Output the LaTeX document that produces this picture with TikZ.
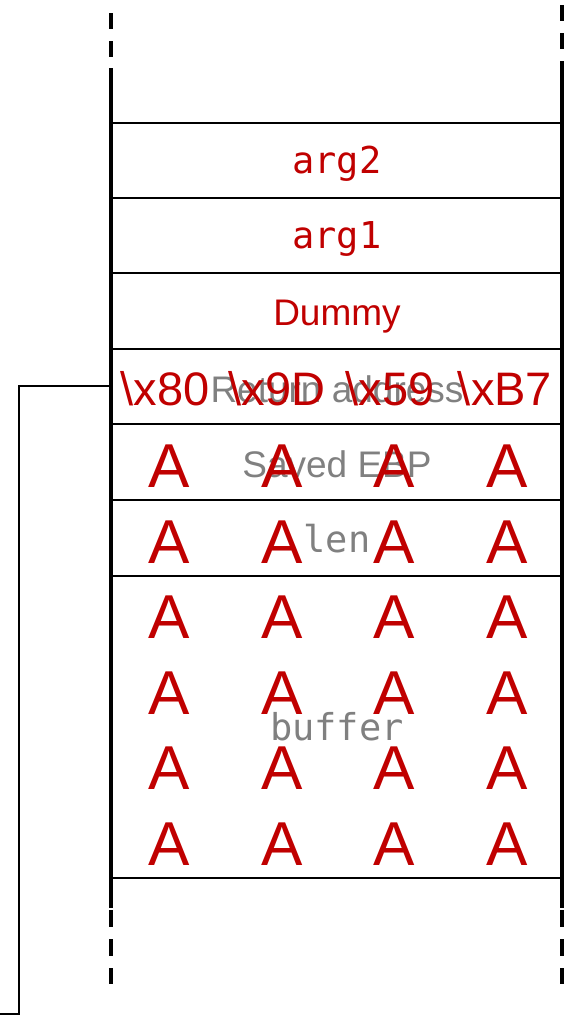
\documentclass[tikz,border=0pt]{standalone}
\usepackage{fontspec}
\newfontfamily\stacksans{Liberation Sans}
\newfontfamily\stackmono{DejaVu Sans Mono}
\definecolor{payload}{RGB}{192,0,0}
\definecolor{fieldgray}{RGB}{128,128,128}
\tikzset{
  wall/.style={line width=3.4pt},
  wallgap/.style={line width=3.4pt, dash pattern=on 16pt off 12pt},
  wallgaplow/.style={line width=3.4pt, dash pattern=on 17pt off 12pt},
  slot/.style={line width=1.6pt},
  link/.style={line width=1.3pt},
  field/.style={inner sep=0pt, anchor=base, text=fieldgray,
    font=\stacksans\fontsize{37}{44}\selectfont},
  fieldmono/.style={field, font=\stackmono\fontsize{37}{44}\selectfont},
  param/.style={inner sep=0pt, anchor=base, text=payload,
    font=\stackmono\fontsize{37}{44}\selectfont},
  paramsans/.style={param, font=\stacksans\fontsize{37}{44}\selectfont},
  byte/.style={inner sep=0pt, anchor=base, text=payload,
    font=\stacksans\fontsize{47}{55}\selectfont},
  junk/.style={inner sep=0pt, anchor=base, text=payload,
    font=\stacksans\fontsize{62}{70}\selectfont},
}
\begin{document}
\begin{tikzpicture}[x=1pt,y=-1pt]
\useasboundingbox (0,0) rectangle (571,1017);

% slot boundaries of the stack frame
\foreach \yy in {123,198,273,349,424,500,576,878}
  \draw[slot] (111,\yy) -- (562,\yy);

% field names (drawn first so the payload sits on top)
\node[field]     (retlbl) at (337,402) {Return address};
\node[field]     (ebplbl) at (337,477) {Saved EBP};
\node[fieldmono] (lenlbl) at (337,552) {len};
\node[fieldmono] (buflbl) at (337,740) {buffer};

% caller-side slots
\node[param]     (arg2) at (337,173) {arg2};
\node[param]     (arg1) at (337,248) {arg1};
\node[paramsans] (dummy) at (337,325) {Dummy};

% overwritten return address
\node[byte] (b1) at (165,405) {\textbackslash x80};
\node[byte] (b2) at (277,405) {\textbackslash x9D};
\node[byte] (b3) at (390,405) {\textbackslash x59};
\node[byte] (b4) at (505,405) {\textbackslash xB7};

% padding bytes
\foreach \yy [count=\r] in {487,563,638.5,714,789.5,865}
  \foreach \xx [count=\c] in {169,282,394.5,507.5}
    \node[junk] (pad-\r-\c) at (\xx,\yy) {A};

% stack walls
\draw[wallgap] (111,13) -- (111,68);
\draw[wall] (111,68) -- (111,908);
\draw[wallgaplow] (111,910) -- (111,984);
\draw[wallgap] (562,5) -- (562,77);
\draw[wall] (562,77) -- (562,908);
\draw[wallgaplow] (562,910) -- (562,984);

% jump target of the return address
\coordinate (ret) at (110,386);
\coordinate (bend) at (19,1014);
\coordinate (away) at (0,1014);
\draw[link] (ret) -| (bend) -- (away);
\end{tikzpicture}
\end{document}
